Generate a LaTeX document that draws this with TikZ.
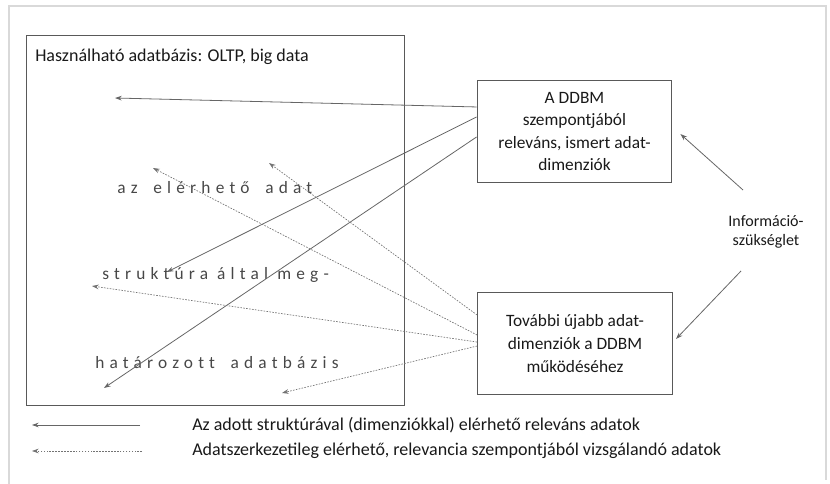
\documentclass[tikz,border=0pt]{standalone}
\usepackage{fontspec}
\setmainfont{Carlito}
\newfontfamily\spacedfont[LetterSpace=30,Ligatures=NoCommon]{Carlito}
\usetikzlibrary{arrows.meta}

\tikzset{
  dimbox/.style={draw=black!65, line width=0.9pt, minimum width=146pt, minimum height=76pt,
    align=center, inner sep=0pt, text=black!90, font=\fontsize{13}{16.8}\selectfont},
  relarrow/.style={draw=black!60, line width=0.6pt, -{Stealth[length=5pt,width=3.5pt]}},
  checkarrow/.style={draw=black!55, line width=0.5pt, dash pattern=on 1.2pt off 1pt,
    -{Stealth[length=5pt,width=3.5pt]}},
  spaced/.style={anchor=west, inner sep=0pt, text=black!72, font=\spacedfont\fontsize{13}{15}\selectfont},
  plain/.style={anchor=west, inner sep=0pt, text=black!90, font=\fontsize{13.5}{15}\selectfont},
}

\begin{document}
\begin{tikzpicture}[x=0.75pt,y=-0.75pt]
    \useasboundingbox (0,0) rectangle (830,484);
    % outer frame
    \draw[black!15, line width=0.8pt] (9,484) -- (9,6) -- (826,6) -- (826,480);

    % database box
    \node[draw=black!65, line width=0.9pt, minimum width=283pt, minimum height=277pt, inner sep=0pt] (db) at (215.5,220.5) {};
    \node[plain] (dbtitle) at (35,57) {Használható adatbázis: OLTP, big data};
    \node[spaced] (sp1) at (117,188) {az\hspace{5pt} elérhető\hspace{5pt} adat};
    \node[spaced] (sp2) at (102,275) {struktúra által meg-};
    \node[spaced] (sp3) at (95,363) {határozott\hspace{5pt} adatbázis};

    % dimension boxes
    \node[dimbox] (relev) at (574.5,131.5) {A DDBM\\szempontjából\\releváns, ismert adat-\\dimenziók};
    \node[dimbox, font=\fontsize{13}{17.5}\selectfont] (ujabb) at (575,343.5) {További újabb adat-\\dimenziók a DDBM\\működéséhez};
    \node[align=center, inner sep=0pt, text=black!90, font=\fontsize{12}{14.5}\selectfont] (info) at (766,232) {Információ-\\szükséglet};

    % arrow tips inside the database
    \coordinate (t1) at (115,98);
    \coordinate (t2) at (167,272);
    \coordinate (t3) at (104,388);
    \coordinate (d1) at (153,168);
    \coordinate (d2) at (269,163);
    \coordinate (d3) at (92,286);
    \coordinate (d4) at (282,393);

    % Arrows
    \draw[relarrow] ([yshift=18.4pt]relev.west) -- (t1);
    \draw[relarrow] ([yshift=10.9pt]relev.west) -- (t2);
    \draw[relarrow] ([yshift=-4.1pt]relev.west) -- (t3);
    \draw[checkarrow] ([yshift=6.4pt]ujabb.west) -- (d1);
    \draw[checkarrow] ([yshift=21.4pt]ujabb.west) -- (d2);
    \draw[checkarrow] ([yshift=1.1pt]ujabb.west) -- (d3);
    \draw[checkarrow] ([yshift=-1.9pt]ujabb.west) -- (d4);

    \coordinate (i1) at (743,190);
    \coordinate (i2) at (741,271);
    \draw[relarrow] (i1) -- ([xshift=6pt,yshift=-1.9pt]relev.east);
    \draw[relarrow] (i2) -- ([xshift=2.3pt,yshift=3.4pt]ujabb.east);

    % legend
    \coordinate (l1) at (140,425);
    \coordinate (l2) at (142,451);
    \draw[relarrow] (l1) -- (32,425);
    \draw[checkarrow] (l2) -- (32,451);
    \node[plain] (leg1) at (192,425) {Az adott struktúrával (dimenziókkal) elérhető releváns adatok};
    \node[plain] (leg2) at (192,451) {Adatszerkezetileg elérhető, relevancia szempontjából vizsgálandó adatok};
\end{tikzpicture}
\end{document}
